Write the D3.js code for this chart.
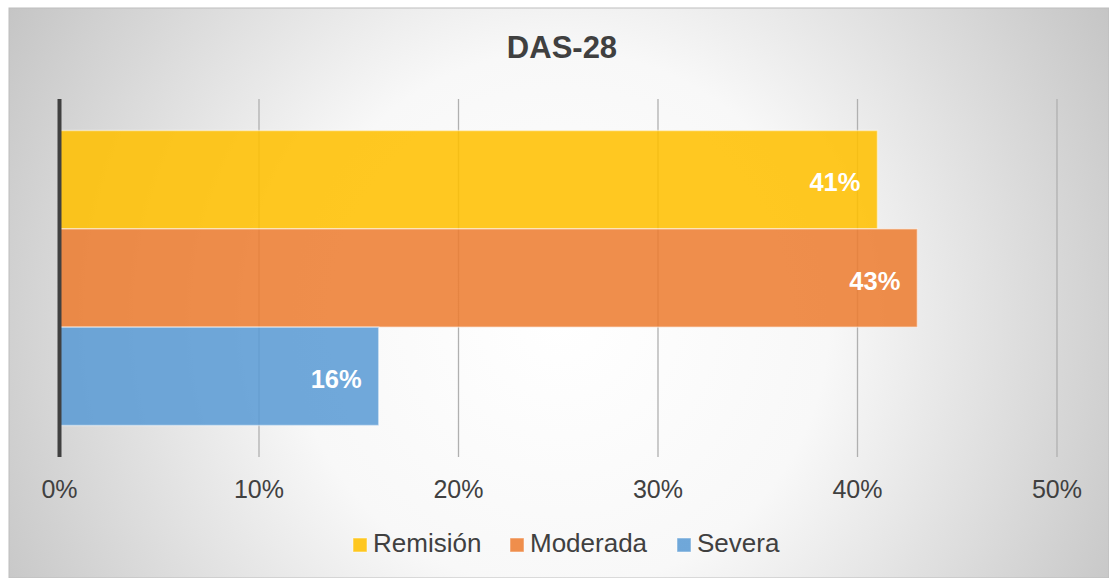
<!DOCTYPE html>
<html><head><meta charset="utf-8">
<script src="https://cdn.jsdelivr.net/npm/d3@7"></script>
<style>html,body{margin:0;padding:0;background:#fff}svg{display:block}</style>
</head><body>
<svg id="c" width="1109" height="578"></svg>
<script>
const title = "DAS-28";
const series = ["Remisión", "Moderada", "Severa"];
const values = [41, 43, 16];
const colors = ["#FFC000", "#ED7D31", "#5B9BD5"];
const ticks = [0, 10, 20, 30, 40, 50];

const svg = d3.select("#c");
const font = "Liberation Sans, Arial, sans-serif";

const defs = svg.append("defs");
const rg = defs.append("radialGradient").attr("id","bg")
  .attr("gradientUnits","userSpaceOnUse").attr("cx",560).attr("cy",320).attr("r",640);
[[0,"#ffffff"],[0.42,"#f8f8f8"],[1,"#c4c4c4"]].forEach(s=>rg.append("stop").attr("offset",s[0]).attr("stop-color",s[1]));

svg.append("rect").attr("x",9).attr("y",8).attr("width",1100).attr("height",570)
  .attr("fill","url(#bg)").attr("stroke","#bdbdbd").attr("stroke-width",1);

const x = d3.scaleLinear().domain([0,50]).range([59.5,1057]);
const plotTop = 99, plotBottom = 457;
const outer = d3.scaleBand().domain(["g"]).range([plotTop, plotBottom]).paddingOuter(0.1068).paddingInner(0);
const y = d3.scaleBand().domain(series).range([outer("g"), outer("g")+outer.bandwidth()]).padding(0);

// gridlines
svg.append("g").selectAll("line").data(ticks.slice(1)).join("line")
  .attr("x1",d=>x(d)).attr("x2",d=>x(d)).attr("y1",plotTop).attr("y2",plotBottom)
  .attr("stroke","#b0b0b0").attr("stroke-width",1.3);

// bars
svg.append("g").selectAll("rect").data(series).join("rect")
  .attr("x",x(0)).attr("y",d=>y(d)).attr("width",(d,i)=>x(values[i])-x(0)).attr("height",y.bandwidth())
  .attr("fill",(d,i)=>colors[i]).attr("fill-opacity",0.87)
  .attr("stroke","rgba(255,255,255,0.45)").attr("stroke-width",1.5);

// data labels
svg.append("g").selectAll("text").data(series).join("text")
  .attr("x",(d,i)=>x(values[i])-17).attr("y",d=>y(d)+y.bandwidth()/2+11.5)
  .attr("text-anchor","end").attr("fill","#fff").attr("font-family",font)
  .attr("font-weight","bold").attr("font-size","25.5px")
  .text((d,i)=>values[i]+"%");

// axis line
svg.append("line").attr("x1",x(0)).attr("x2",x(0)).attr("y1",plotTop).attr("y2",plotBottom)
  .attr("stroke","#404040").attr("stroke-width",4);

// tick labels
svg.append("g").selectAll("text").data(ticks).join("text")
  .attr("x",d=>x(d)).attr("y",498).attr("text-anchor","middle")
  .attr("fill","#404040").attr("font-family",font).attr("font-size","25px")
  .text(d=>d+"%");

// title
svg.append("text").attr("x",562).attr("y",58).attr("text-anchor","middle")
  .attr("fill","#404040").attr("font-family",font).attr("font-weight","bold").attr("font-size","31px")
  .text(title);

// legend
const legX = [353, 510, 677];
const lg = svg.append("g").selectAll("g").data(series).join("g")
  .attr("transform",(d,i)=>`translate(${legX[i]},0)`);
lg.append("rect").attr("x",0).attr("y",538).attr("width",14).attr("height",14)
  .attr("fill",(d,i)=>colors[i]).attr("fill-opacity",0.87).attr("stroke","rgba(255,255,255,0.5)");
lg.append("text").attr("x",20).attr("y",552).attr("fill","#404040").attr("font-family",font)
  .attr("font-size","26px").text(d=>d);
</script>
</body></html>
